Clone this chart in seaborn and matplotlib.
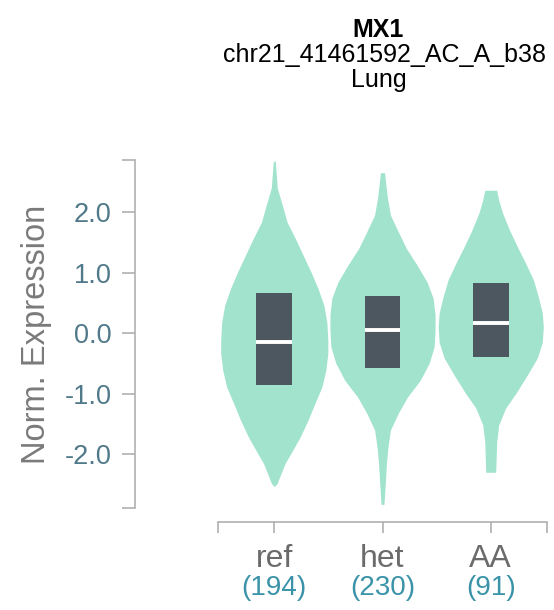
import numpy as np
import pandas as pd
import seaborn as sns
import matplotlib.pyplot as plt

# genotype groups and sample counts
groups = ["ref", "het", "AA"]
counts = [194, 230, 91]

# violin outlines: expression level and relative half-width
ref_y = [2.84, 2.40, 2.12, 1.83, 1.57, 1.29, 1.01, 0.74, 0.46, 0.18, -0.12, -0.33,
         -0.61, -0.89, -1.16, -1.44, -1.72, -1.98, -2.15, -2.31, -2.48, -2.53]
ref_w = [1, 3, 8, 13, 21, 29, 37, 44, 50, 53, 54, 54,
         52, 48, 41, 34, 26, 17, 11, 7, 3, 0.5]
het_y = [2.65, 2.23, 1.95, 1.67, 1.40, 1.12, 0.84, 0.58, 0.30, 0.05, -0.23, -0.50,
         -0.78, -1.06, -1.32, -1.60, -1.88, -2.15, -2.43, -2.83]
het_w = [2, 5, 8, 16, 24, 35, 45, 51, 53, 53, 52, 47,
         38, 25, 16, 8, 5.5, 4, 3, 1.5]
aa_y = [2.36, 2.20, 1.98, 1.70, 1.42, 1.16, 0.88, 0.60, 0.33, 0.10, -0.15, -0.41,
        -0.69, -0.98, -1.24, -1.52, -1.80, -2.07, -2.30]
aa_w = [6, 8, 12, 19, 27, 35, 43, 48, 52, 53, 52, 47,
        37, 26, 15, 8, 6, 5.5, 5]

# box stats (q1, median, q3)
q1 = [-0.86, -0.57, -0.40]
med = [-0.15, 0.05, 0.17]
q3 = [0.66, 0.61, 0.83]

outlines = pd.DataFrame({
    "group": ["ref"] * len(ref_y) + ["het"] * len(het_y) + ["AA"] * len(aa_y),
    "y": ref_y + het_y + aa_y,
    "w": ref_w + het_w + aa_w,
})
boxes = pd.DataFrame({"group": groups, "q1": q1, "med": med, "q3": q3})

sns.set_theme(style="ticks")
plt.rcParams["font.family"] = ["Liberation Sans", "DejaVu Sans"]

violin_color = "#a2e3cd"
box_color = "#4d5760"
axis_color = "#aaaaaa"

fig = plt.figure(figsize=(5.54, 6.10), dpi=100)
ax = fig.add_axes([218 / 554, 1 - 508 / 610, (547 - 218) / 554, (508 - 160) / 610])

ylo, yhi = -2.89, 2.86
xlo, xhi = -0.52, 2.52

wmax = outlines["w"].max()
for i, g in enumerate(groups):
    d = outlines[outlines["group"] == g]
    hw = d["w"].to_numpy() / wmax * 0.495
    ax.fill_betweenx(d["y"].to_numpy(), i - hw, i + hw, color=violin_color, lw=0)

box_w = 0.33
ax.bar(range(len(groups)), boxes["q3"] - boxes["q1"], bottom=boxes["q1"],
       width=box_w, color=box_color, lw=0)
ax.hlines(boxes["med"], np.arange(len(groups)) - box_w / 2,
          np.arange(len(groups)) + box_w / 2, color="white", lw=2.8)

ax.set_xlim(xlo, xhi)
ax.set_ylim(ylo, yhi)
sns.despine(ax=ax)
ax.spines["left"].set_position(("outward", 60))
ax.spines["bottom"].set_position(("outward", 10))
for s in ["left", "bottom"]:
    ax.spines[s].set_color(axis_color)
    ax.spines[s].set_linewidth(1.1)

yt = [-2, -1, 0, 1, 2]
ax.set_yticks([ylo] + yt + [yhi])
ax.set_yticklabels([""] + [f"{v:.1f}" for v in yt] + [""])
ax.tick_params(axis="y", length=9.5, width=1.1, color=axis_color, pad=7,
               labelsize=19.5, labelcolor="#50798a")

ax.set_xticks([xlo, 0, 1, 2, xhi])
ax.set_xticklabels([""] * 5)
ax.tick_params(axis="x", length=8, width=1.1, color=axis_color)

for i, (g, n) in enumerate(zip(groups, counts)):
    ax.annotate(g, xy=(i, 0), xycoords=("data", "axes fraction"),
                xytext=(0, -37), textcoords="offset points",
                ha="center", va="center", fontsize=23, color="#6b6b6b")
    ax.annotate(f"({n})", xy=(i, 0), xycoords=("data", "axes fraction"),
                xytext=(0, -57.5), textcoords="offset points",
                ha="center", va="center", fontsize=20, color="#3a93a8")

fig.text(37 / 554, 1 - 334 / 610, "Norm. Expression", rotation=90,
         ha="center", va="center", fontsize=23.5, color="#7a7a7a")

fig.text(378 / 554, 1 - 37 / 610, "MX1", ha="center", va="baseline",
         fontsize=18, fontweight="bold", color="black")
fig.text(385 / 554, 1 - 62 / 610, "chr21_41461592_AC_A_b38", ha="center",
         va="baseline", fontsize=18, color="black")
fig.text(379 / 554, 1 - 87 / 610, "Lung", ha="center", va="baseline",
         fontsize=18, color="black")

fig.savefig("out.png", dpi=100)
